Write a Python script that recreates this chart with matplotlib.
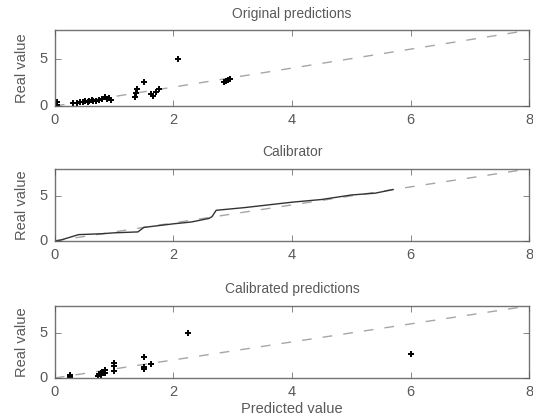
import numpy as np
import matplotlib
matplotlib.use("Agg")
import matplotlib.pyplot as plt

# raw model output vs. measured value
orig_x = [0.03, 0.03, 0.30, 0.38, 0.42, 0.47, 0.50, 0.55, 0.58, 0.62, 0.65, 0.70,
          0.75, 0.80, 0.85, 0.88, 0.92, 0.95, 1.35, 1.37, 1.38, 1.50, 1.62, 1.65,
          1.70, 1.75, 2.08, 2.85, 2.88, 2.92, 2.95]
orig_y = [0.10, 0.40, 0.30, 0.35, 0.45, 0.40, 0.55, 0.45, 0.50, 0.60, 0.50, 0.55,
          0.60, 0.75, 0.90, 0.70, 0.85, 0.65, 1.00, 1.40, 1.80, 2.55, 1.30, 1.10,
          1.50, 1.75, 5.00, 2.50, 2.60, 2.75, 2.85]

# fitted calibration curve
cal_x = [0.0, 0.1, 0.2, 0.3, 0.4, 0.8, 1.0, 1.4, 1.5, 2.0, 2.3, 2.6, 2.65, 2.72,
         3.2, 3.6, 4.0, 4.5, 5.0, 5.4, 5.7]
cal_y = [0.0, 0.1, 0.3, 0.5, 0.7, 0.8, 0.9, 1.0, 1.5, 1.9, 2.1, 2.5, 2.7, 3.4,
         3.7, 4.0, 4.3, 4.6, 5.1, 5.3, 5.7]

# predictions after calibration
calib_x = [0.25, 0.25, 0.72, 0.75, 0.77, 0.78, 0.80, 0.82, 0.85, 0.85, 1.00, 1.00,
           1.00, 1.50, 1.50, 1.50, 1.62, 2.25, 6.00]
calib_y = [0.05, 0.35, 0.20, 0.40, 0.55, 0.30, 0.70, 0.50, 0.85, 0.60, 0.80, 1.30,
           1.70, 1.00, 1.20, 2.30, 1.60, 5.00, 2.70]

plt.style.use("classic")
plt.rcParams["font.family"] = "Liberation Sans"

fig = plt.figure(figsize=(5.33, 4.19), dpi=100)
fig.patch.set_facecolor("white")

boxes = [[0.103, 0.747, 0.89, 0.181],
         [0.103, 0.425, 0.89, 0.172],
         [0.103, 0.098, 0.89, 0.172]]
titles = ["Original predictions", "Calibrator", "Calibrated predictions"]

diag = np.array([0, 8])
axes = []
for box, title in zip(boxes, titles):
    ax = fig.add_axes(box)
    ax.plot(diag, diag, "--", color="0.65", lw=1, dashes=(7, 8))
    ax.set_xlim(0, 8)
    ax.set_ylim(0, 8)
    ax.set_xticks([0, 2, 4, 6, 8])
    ax.set_yticks([0, 5])
    ax.tick_params(labelsize=10.5, colors="0.35", length=4, pad=5)
    ax.set_title(title, fontsize=10, color="0.35", pad=9)
    ax.set_ylabel("Real value", fontsize=10.5, color="0.35", labelpad=8)
    for s in ax.spines.values():
        s.set_color("0.45")
    axes.append(ax)

axes[0].plot(orig_x, orig_y, "k+", ms=5, mew=1.4)
axes[1].plot(cal_x, cal_y, "-", color="0.2", lw=1)
axes[2].plot(calib_x, calib_y, "k+", ms=5, mew=1.4)
axes[2].set_xlabel("Predicted value", fontsize=10.5, color="0.35", labelpad=2)

fig.savefig("out.png", dpi=100, facecolor="white")
